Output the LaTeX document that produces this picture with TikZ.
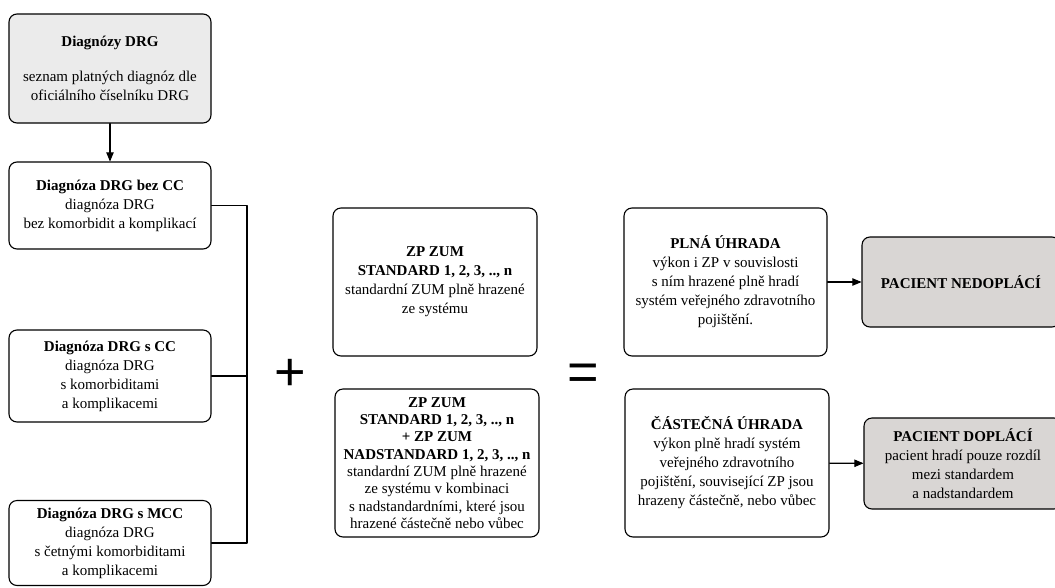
\documentclass[tikz,border=0pt]{standalone}
\usepackage{fontspec}
\setmainfont{Liberation Serif}
\newfontfamily\signfont{Liberation Sans}
\usetikzlibrary{arrows}
\definecolor{lightgr}{rgb}{0.92,0.92,0.92}
\definecolor{darkgr}{rgb}{0.85,0.84,0.83}

\tikzset{
  box/.style={draw,rounded corners=8pt,align=center,line width=1.1pt,
    font=\fontsize{15}{19}\selectfont,inner sep=2pt},
  sign/.style={inner sep=0pt,font=\signfont\fontsize{54}{54}\selectfont}
}

\begin{document}
\begin{tikzpicture}[line cap=round,line join=round,>=triangle 45,x=1pt,y=-1pt]
      \useasboundingbox (0,0) rectangle (1055,587);
      % left column
      \node[box,fill=lightgr,minimum width=202,minimum height=109] (drg) at (110,68.5)
        {\textbf{Diagnózy DRG}\\[16pt] seznam platných diagnóz dle\\ oficiálního číselníku DRG};
      \node[box,minimum width=202,minimum height=87] (bezcc) at (110,205.5)
        {\textbf{Diagnóza DRG bez CC}\\ diagnóza DRG\\ bez komorbidit a komplikací};
      \node[box,minimum width=202,minimum height=92] (scc) at (110,376)
        {\textbf{Diagnóza DRG s CC}\\ diagnóza DRG\\ s komorbiditami\\ a komplikacemi};
      \node[box,minimum width=202,minimum height=85] (mcc) at (110,543)
        {\textbf{Diagnóza DRG s MCC}\\ diagnóza DRG\\ s četnými komorbiditami\\ a komplikacemi};
      \coordinate (bus) at (247,375);
      % middle column
      \node[box,minimum width=204,minimum height=148] (zp1) at (435,282)
        {\textbf{ZP ZUM}\\ \textbf{STANDARD 1, 2, 3, .., n}\\ standardní ZUM plně hrazené\\ ze systému};
      \node[box,font=\fontsize{15}{17.3}\selectfont,minimum width=204,minimum height=148] (zp2) at (437,463)
        {\textbf{ZP ZUM}\\ \textbf{STANDARD 1, 2, 3, .., n}\\ \textbf{+ ZP ZUM}\\ \textbf{NADSTANDARD 1, 2, 3, .., n}\\
         standardní ZUM plně hrazené\\ ze systému v kombinaci\\ s nadstandardními, které jsou\\ hrazené částečně nebo vůbec};
      \node[sign] (plus) at (290,375) {+};
      \node[sign] (eq) at (583,377) {=};
      % right column
      \node[box,minimum width=203,minimum height=148] (plna) at (725.5,282)
        {\textbf{PLNÁ ÚHRADA}\\ výkon i ZP v souvislosti\\ s ním hrazené plně hradí\\ systém veřejného zdravotního\\ pojištění.};
      \node[box,minimum width=204,minimum height=148] (cast) at (727,463)
        {\textbf{ČÁSTEČNÁ ÚHRADA}\\ výkon plně hradí systém\\ veřejného zdravotního\\ pojištění, související ZP jsou\\ hrazeny částečně, nebo vůbec};
      \node[box,fill=darkgr,minimum width=198,minimum height=90] (nedo) at (961,282)
        {\textbf{PACIENT NEDOPLÁCÍ}};
      \node[box,fill=darkgr,minimum width=198,minimum height=91] (dopl) at (963,463.5)
        {\textbf{PACIENT DOPLÁCÍ}\\ pacient hradí pouze rozdíl\\ mezi standardem\\ a nadstandardem};
      % connectors
      \draw[->,line width=1.1pt] (drg) -- (bezcc);
      \draw[line width=1.1pt] (bezcc.east) -| (bus |- mcc.east) -- (mcc.east);
      \draw[line width=1.1pt] (scc.east) -- (scc.east -| bus);
      \draw[->,line width=1.1pt] (plna) -- (nedo);
      \draw[->,line width=1.1pt] (cast) -- (dopl);
\end{tikzpicture}
\end{document}
